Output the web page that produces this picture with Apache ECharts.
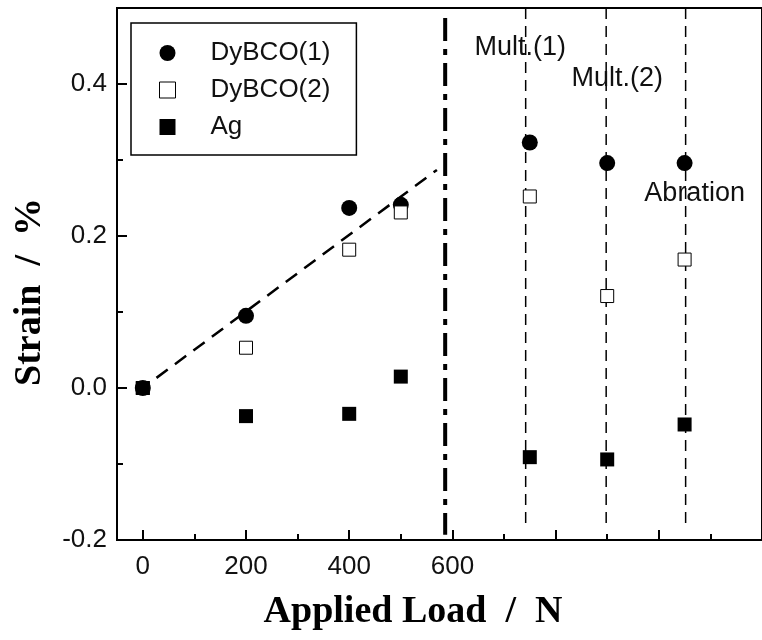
<!DOCTYPE html>
<html>
<head>
<meta charset="utf-8">
<script src="https://cdn.jsdelivr.net/npm/echarts@6/dist/echarts.min.js"></script>
<style>
  html, body { margin: 0; padding: 0; background: #fff; }
  #main { width: 762px; height: 640px; }
</style>
</head>
<body>
<div id="main"></div>
<script>
// data
var loads  = [0, 200, 400, 500, 750, 900, 1050];
var dybco1 = [0, 0.095, 0.237, 0.241, 0.323, 0.296, 0.296];
var dybco2 = [0, 0.053, 0.182, 0.231, 0.252, 0.121, 0.169];
var ag     = [0, -0.037, -0.034, 0.015, -0.091, -0.094, -0.048];

var fitX = [0, 570];
var fitY = [0, 0.287];

var boundaryX = 586;          // dash-dot line
var boundaryY = [0.487, -0.193];
var stepX = [742, 898, 1052]; // dashed lines
var stepY = [0.5, -0.187];

var notes = [
  [643, 0.448, 'Mult.(1)'],
  [831, 0.407, 'Mult.(2)'],
  [972, 0.256, 'Abration']
];

var xMajor = [0, 200, 400, 600, 800, 1000];
var xMinor = [100, 300, 500, 700, 900, 1100];
var xLabels = [0, 200, 400, 600];
var yMajor = [-0.2, 0, 0.2, 0.4];
var yMinor = [-0.1, 0.1, 0.3];

function pairs(xs, ys) {
  return xs.map(function (x, i) { return [x, ys[i]]; });
}

var FONT = 'Liberation Sans';
var axisLine = { show: true, onZero: false, lineStyle: { color: '#000', width: 2 } };
var noLine = { show: false, onZero: false };

var chart = echarts.init(document.getElementById('main'), null, { renderer: 'canvas' });

var series = [
  {
    name: 'fit', type: 'line', xAxisIndex: 0, yAxisIndex: 0,
    data: pairs(fitX, fitY), symbol: 'none', silent: true, z: 1,
    lineStyle: { color: '#000', width: 2.5, type: [14, 9], dashOffset: 6 }
  },
  {
    name: 'boundary', type: 'line', xAxisIndex: 0, yAxisIndex: 0,
    data: [[boundaryX, boundaryY[0]], [boundaryX, boundaryY[1]]],
    symbol: 'none', silent: true, z: 1,
    lineStyle: { color: '#000', width: 4, type: [23, 8, 6, 8] }
  }
];

stepX.forEach(function (x, i) {
  series.push({
    name: 'step' + i, type: 'line', xAxisIndex: 0, yAxisIndex: 0,
    data: [[x, stepY[0]], [x, stepY[1]]],
    symbol: 'none', silent: true, z: 1,
    lineStyle: { color: '#000', width: 1.5, type: [11, 7] }
  });
});

series.push(
  {
    name: 'DyBCO(1)', type: 'scatter', xAxisIndex: 0, yAxisIndex: 0,
    data: pairs(loads, dybco1), symbol: 'circle', symbolSize: 16, z: 3,
    itemStyle: { color: '#000', opacity: 1 }
  },
  {
    name: 'DyBCO(2)', type: 'scatter', xAxisIndex: 0, yAxisIndex: 0,
    data: pairs(loads, dybco2), symbol: 'rect', symbolSize: 13, z: 4,
    itemStyle: { color: '#fff', borderColor: '#000', borderWidth: 1, opacity: 1 }
  },
  {
    name: 'Ag', type: 'scatter', xAxisIndex: 0, yAxisIndex: 0,
    data: pairs(loads, ag), symbol: 'rect', symbolSize: 14, z: 5,
    itemStyle: { color: '#000', opacity: 1 }
  },
  {
    name: 'notes', type: 'scatter', xAxisIndex: 0, yAxisIndex: 0,
    data: notes, symbolSize: 0, silent: true, z: 6,
    itemStyle: { opacity: 1, color: '#000' },
    label: {
      show: true, position: 'right', distance: 0,
      formatter: function (p) { return p.data[2]; },
      fontFamily: FONT, fontSize: 27, color: '#111'
    }
  }
);

var option = {
  backgroundColor: '#fff',
  animation: false,
  grid: [
    { left: 117, top: 8, right: -9, bottom: 100, show: true, borderColor: '#000', borderWidth: 2 },
    { left: 117, top: 8, right: -9, bottom: 100, show: false }
  ],
  legend: {
    orient: 'vertical', left: 131, top: 23,
    borderColor: '#000', borderWidth: 1.5,
    padding: [17, 26, 15, 28],
    itemWidth: 16, itemHeight: 16, itemGap: 11,
    selectedMode: false,
    textStyle: { fontFamily: FONT, fontSize: 26, color: '#111', padding: [0, 0, 0, 30] },
    data: [
      { name: 'DyBCO(1)', icon: 'circle', itemStyle: { color: '#000' } },
      { name: 'DyBCO(2)', icon: 'rect', itemStyle: { color: '#fff', borderColor: '#000', borderWidth: 1 } },
      { name: 'Ag', icon: 'rect', itemStyle: { color: '#000' } }
    ]
  },
  xAxis: [
    {
      type: 'value', gridIndex: 0, min: -50, max: 1200, position: 'bottom',
      axisLine: axisLine,
      axisTick: { show: true, inside: true, length: 10, customValues: xMajor, lineStyle: { color: '#000', width: 2 } },
      axisLabel: { customValues: xLabels, fontFamily: FONT, fontSize: 26, color: '#111', margin: 14 },
      splitLine: { show: false }
    },
    {
      type: 'value', gridIndex: 1, min: -50, max: 1200, position: 'bottom',
      axisLine: noLine,
      axisTick: { show: true, inside: true, length: 6, customValues: xMinor, lineStyle: { color: '#000', width: 2 } },
      axisLabel: { show: false },
      splitLine: { show: false }
    }
  ],
  yAxis: [
    {
      type: 'value', gridIndex: 0, min: -0.2, max: 0.5, position: 'left',
      axisLine: axisLine,
      axisTick: { show: true, inside: true, length: 10, customValues: yMajor, lineStyle: { color: '#000', width: 2 } },
      axisLabel: {
        customValues: yMajor, fontFamily: FONT, fontSize: 26, color: '#111', margin: 10,
        formatter: function (v) { return v.toFixed(1); }
      },
      splitLine: { show: false }
    },
    {
      type: 'value', gridIndex: 1, min: -0.2, max: 0.5, position: 'left',
      axisLine: noLine,
      axisTick: { show: true, inside: true, length: 6, customValues: yMinor, lineStyle: { color: '#000', width: 2 } },
      axisLabel: { show: false },
      splitLine: { show: false }
    }
  ],
  graphic: [
    {
      type: 'text', x: 413, y: 612, silent: true,
      style: { text: 'Applied Load  /  N', font: 'bold 38px "Liberation Serif"', fill: '#000', align: 'center', verticalAlign: 'middle' }
    },
    {
      type: 'text', x: 30, y: 292, rotation: Math.PI / 2, silent: true,
      style: { text: 'Strain  /  %', font: 'bold 38px "Liberation Serif"', fill: '#000', align: 'center', verticalAlign: 'middle' }
    }
  ],
  series: series
};

chart.setOption(option);
</script>
</body>
</html>
